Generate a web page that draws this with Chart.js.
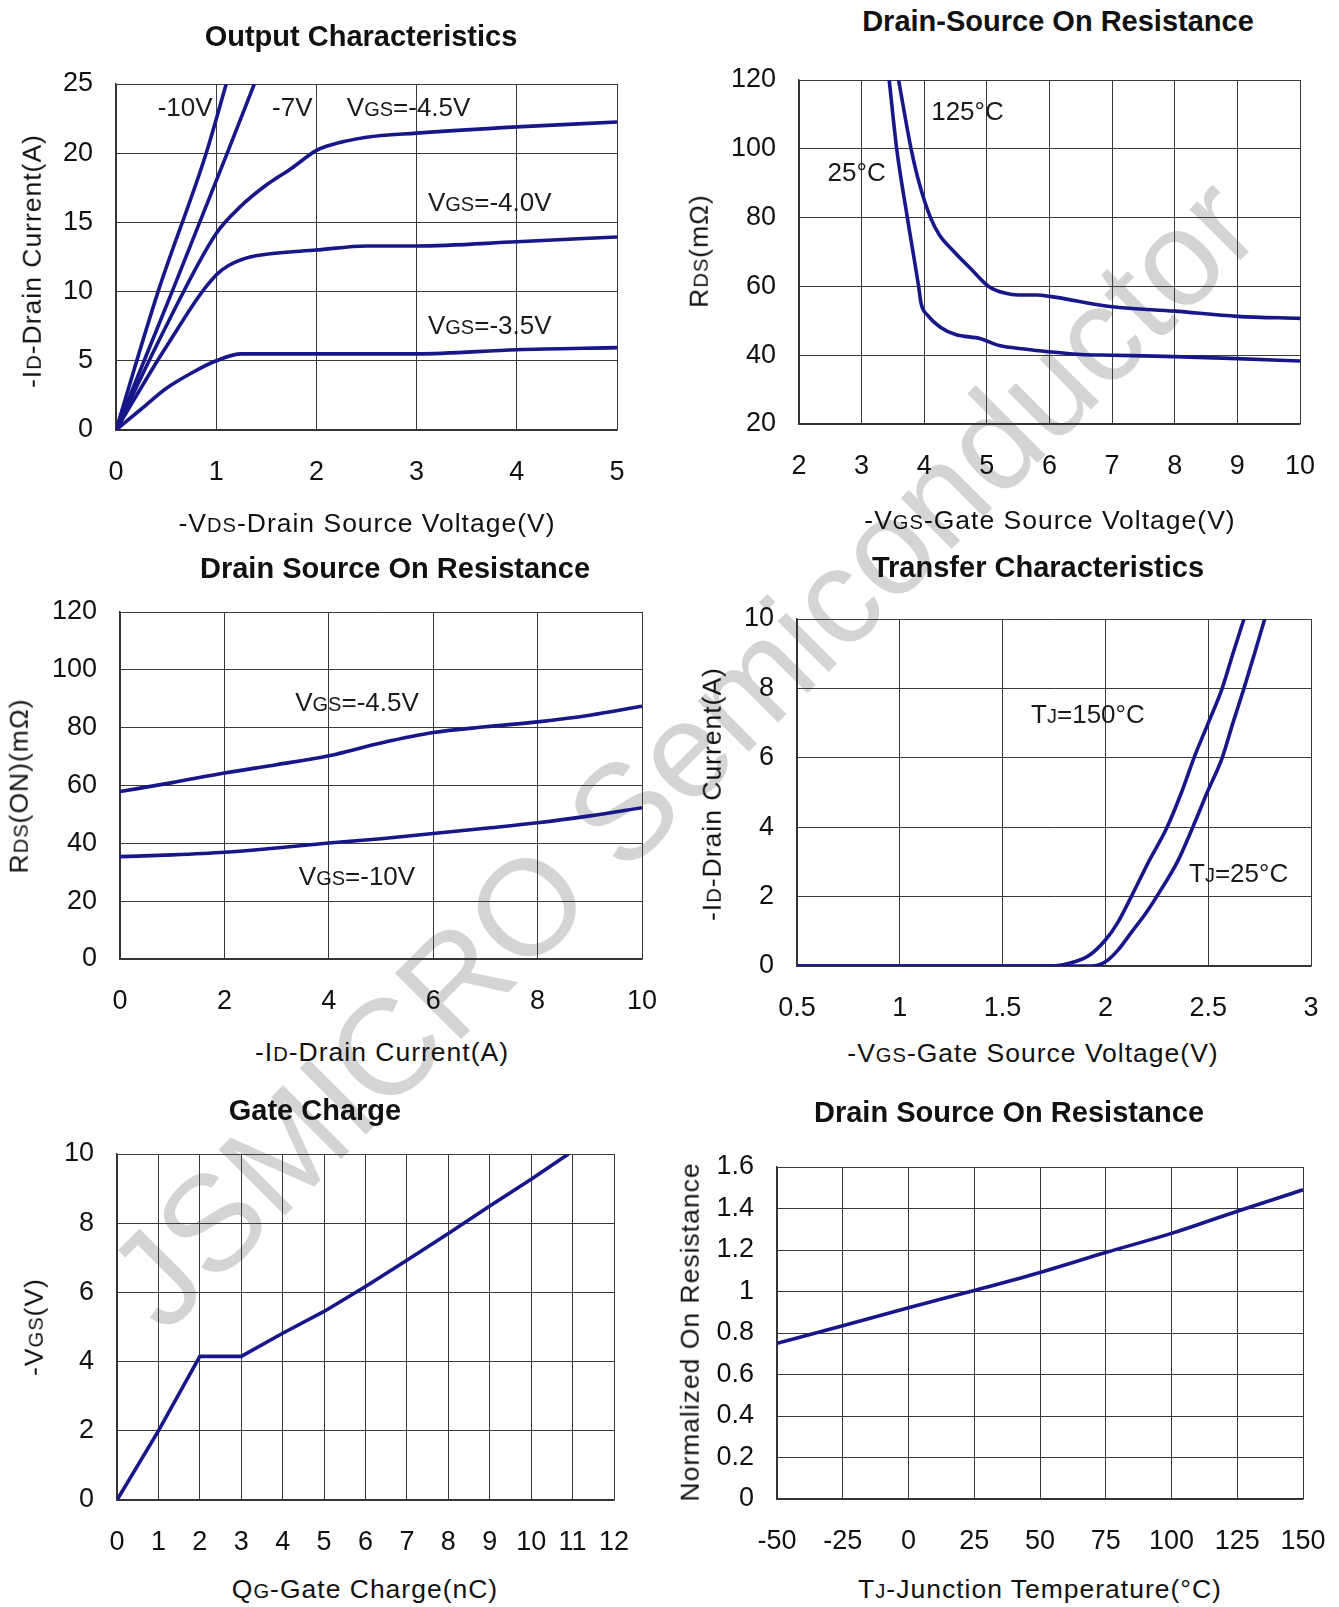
<!DOCTYPE html>
<html>
<head>
<meta charset="utf-8">
<script src="https://cdn.jsdelivr.net/npm/chart.js@4.4.1/dist/chart.umd.min.js"></script>
<style>
  html, body { margin: 0; padding: 0; background: #fff; }
  body { width: 1339px; height: 1607px; position: relative; overflow: hidden;
         font-family: "Liberation Sans", Arial, sans-serif; color: #111; }
  canvas { position: absolute; z-index: 2; }
  .wm { position: absolute; z-index: 1; font-size: 136px; color: #d4d4d4; white-space: nowrap;
        line-height: 1; transform: translate(-50%, -50%) rotate(-45deg); }
  .ttl { position: absolute; z-index: 3; font-weight: bold; font-size: 29px; white-space: nowrap;
         transform: translate(-50%, -50%); }
  .ax { position: absolute; z-index: 3; font-size: 26.5px; letter-spacing: 1px; white-space: nowrap; line-height: 1;
        transform: translate(-50%, -50%); }
  .ax.v { transform: translate(-50%, -50%) rotate(-90deg); }
  .s { font-size: 0.76em; }
</style>
</head>
<body>
<div class="wm" style="left:682px;top:752px">JSMICRO Semiconductor</div>

<div class="ttl" style="left:361px;top:36px">Output Characteristics</div>
<div class="ttl" style="left:1058px;top:21px">Drain-Source On Resistance</div>
<div class="ttl" style="left:395px;top:568px">Drain Source On Resistance</div>
<div class="ttl" style="left:1038px;top:567px">Transfer Characteristics</div>
<div class="ttl" style="left:315px;top:1110px">Gate Charge</div>
<div class="ttl" style="left:1009px;top:1112px">Drain Source On Resistance</div>

<div class="ax" style="left:367px;top:523px">-V<span class="s">DS</span>-Drain Source Voltage(V)</div>
<div class="ax" style="left:1050px;top:520px">-V<span class="s">GS</span>-Gate Source Voltage(V)</div>
<div class="ax" style="left:382px;top:1052px">-I<span class="s">D</span>-Drain Current(A)</div>
<div class="ax" style="left:1033px;top:1053px">-V<span class="s">GS</span>-Gate Source Voltage(V)</div>
<div class="ax" style="left:365px;top:1589px">Q<span class="s">G</span>-Gate Charge(nC)</div>
<div class="ax" style="left:1040px;top:1589px">T<span class="s">J</span>-Junction Temperature(°C)</div>

<div class="ax v" style="left:32px;top:261px">-I<span class="s">D</span>-Drain Current(A)</div>
<div class="ax v" style="left:699px;top:251px">R<span class="s">DS</span>(mΩ)</div>
<div class="ax v" style="left:19px;top:786px">R<span class="s">DS</span>(ON)(mΩ)</div>
<div class="ax v" style="left:712px;top:794px">-I<span class="s">D</span>-Drain Current(A)</div>
<div class="ax v" style="left:34px;top:1327px">-V<span class="s">GS</span>(V)</div>
<div class="ax v" style="left:690px;top:1332px">Normalized On Resistance</div>

<script>
// ---- output characteristics: -ID (A) vs -VDS (V)
const outX = [0, 1, 2, 3, 4, 5];
const outY = [0, 5, 10, 15, 20, 25];
const vds10 = [0, 0.42, 0.9, 1.1];
const id10 = [0, 10, 20, 25];
const vds7 = [0, 0.56, 1.11, 1.38];
const id7 = [0, 10, 20, 25];
const vds45 = [0, 0.5, 1, 1.25, 1.5, 1.75, 2, 2.1, 2.5, 3, 4, 5];
const id45 = [0, 7.5, 14.2, 16.2, 17.7, 18.9, 20.2, 20.5, 21.15, 21.45, 21.9, 22.25];
const vds40 = [0, 0.5, 1, 1.25, 1.5, 2, 2.5, 3, 4, 5];
const id40 = [0, 6, 11.2, 12.3, 12.7, 13.0, 13.3, 13.3, 13.6, 13.95];
const vds35 = [0, 0.25, 0.5, 0.75, 1, 1.25, 2, 3, 4, 5];
const id35 = [0, 1.5, 3.0, 4.1, 5.0, 5.5, 5.5, 5.5, 5.8, 5.95];

// ---- RDS(on) vs -VGS
const rvX = [2, 3, 4, 5, 6, 7, 8, 9, 10];
const rvY = [20, 40, 60, 80, 100, 120];
const vgs25 = [3.44, 3.56, 3.73, 3.91, 3.95, 4.06, 4.27, 4.5, 4.9, 5.2, 5.6, 6, 6.5, 7, 8, 9, 10];
const rds25 = [120, 100, 80, 60, 55, 51.5, 48, 46, 44.8, 42.8, 41.8, 41, 40.2, 40, 39.6, 39, 38.3];
const vgs125 = [3.59, 3.79, 3.92, 4.1, 4.24, 4.48, 4.75, 5.03, 5.3, 5.5, 5.8, 6, 7, 8, 9, 10];
const rds125 = [120, 100, 90, 80, 75, 70, 65, 60, 58, 57.5, 57.5, 57.1, 54.1, 52.8, 51.3, 50.7];

// ---- RDS(on) vs -ID
const riX = [0, 2, 4, 6, 8, 10];
const riY = [0, 20, 40, 60, 80, 100, 120];
const idAxis = [0, 1, 2, 3, 4, 5, 6, 7, 8, 9, 10];
const rdsVgs45 = [57.9, 61.0, 64.3, 67.2, 70.3, 74.7, 78.3, 80.3, 82.0, 84.3, 87.4];
const rdsVgs10 = [35.4, 36.0, 36.9, 38.4, 40.1, 41.6, 43.4, 45.2, 47.1, 49.5, 52.3];

// ---- transfer characteristics
const trX = [0.5, 1, 1.5, 2, 2.5, 3];
const trY = [0, 2, 4, 6, 8, 10];
const vgsT150 = [0.5, 1.75, 1.85, 1.92, 2.0, 2.06, 2.126, 2.21, 2.3, 2.37, 2.431, 2.5, 2.568, 2.62, 2.674];
const idT150 = [0, 0, 0.12, 0.3, 0.75, 1.25, 2, 3, 4, 5, 6, 7, 8, 9, 10];
const vgsT25 = [0.5, 1.93, 2.0, 2.06, 2.13, 2.2, 2.26, 2.35, 2.425, 2.495, 2.568, 2.62, 2.674, 2.725, 2.775];
const idT25 = [0, 0, 0.12, 0.45, 1.0, 1.55, 2.1, 3, 4, 5, 6, 7, 8, 9, 10];

// ---- gate charge
const gcX = [0, 1, 2, 3, 4, 5, 6, 7, 8, 9, 10, 11, 12];
const gcY = [0, 2, 4, 6, 8, 10];
const qg = [0, 1, 2, 3, 4, 5, 6, 7, 8, 9, 10, 10.9];
const vgsQ = [0, 2, 4.15, 4.15, 4.82, 5.45, 6.17, 6.93, 7.7, 8.5, 9.27, 10];

// ---- normalized RDS(on) vs TJ
const tjX = [-50, -25, 0, 25, 50, 75, 100, 125, 150];
const tjY = [0, 0.2, 0.4, 0.6, 0.8, 1, 1.2, 1.4, 1.6];
const tj = [-50, -25, 0, 25, 50, 75, 100, 125, 150];
const rNorm = [0.75, 0.835, 0.922, 1.005, 1.092, 1.188, 1.28, 1.387, 1.49];

const NAVY = "#17178a";
const pts = (xs, ys) => xs.map((x, i) => ({ x, y: ys[i] }));

Chart.defaults.font = { family: "'Liberation Sans', Arial, sans-serif", size: 27, weight: "normal", lineHeight: 1.2 };
Chart.defaults.color = "#111";

// in-plot labels, parts are [text, isSub]
const notes = {
  id: "notes",
  afterDatasetsDraw(chart, args, opts) {
    const ctx = chart.ctx;
    const { x: sx, y: sy } = chart.scales;
    const size = 26;
    ctx.save();
    ctx.fillStyle = "#1a1a1a";
    ctx.textBaseline = "alphabetic";
    (opts.items || []).forEach((it) => {
      let w = 0;
      it.parts.forEach(([t, sub]) => {
        ctx.font = `${sub ? Math.round(size * 0.76) : size}px 'Liberation Sans', Arial, sans-serif`;
        w += ctx.measureText(t).width;
      });
      let px = sx.getPixelForValue(it.x) - w / 2;
      const py = sy.getPixelForValue(it.y) + size * 0.36;
      it.parts.forEach(([t, sub]) => {
        ctx.font = `${sub ? Math.round(size * 0.76) : size}px 'Liberation Sans', Arial, sans-serif`;
        ctx.fillText(t, px, py);
        px += ctx.measureText(t).width;
      });
    });
    ctx.restore();
  },
};

function panel({ L, T, R, B, xr, yr, xt, yt, series, items, tension }) {
  // tick padding is added to the edge-label overhang, so leave room for it on top and right
  const padL = 90, padT = 42, padR = 56, padB = 62;
  const c = document.createElement("canvas");
  const w = R - L + padL + padR, h = B - T + padT + padB;
  c.width = w; c.height = h;
  c.style.left = (L - padL) + "px";
  c.style.top = (T - padT) + "px";
  c.style.width = w + "px"; c.style.height = h + "px";
  document.body.appendChild(c);

  const axis = (range, ticks, isX) => ({
    type: "linear",
    min: range[0], max: range[1],
    afterBuildTicks: (s) => { s.ticks = ticks.map((v) => ({ value: v })); },
    afterFit: (s) => { if (isX) s.height = padB; else s.width = padL; },
    ticks: { padding: isX ? 26 : 23, callback: (v) => String(v), autoSkip: false, maxRotation: 0 },
    grid: { color: "#3a3a3a", lineWidth: 1, drawTicks: false },
    border: { color: "#333", width: 1.5 },
  });

  new Chart(c, {
    type: "line",
    data: {
      datasets: series.map((d) => ({
        data: d,
        borderColor: NAVY,
        borderWidth: 3.6,
        pointRadius: 0,
        fill: false,
        tension: tension,
        cubicInterpolationMode: tension ? "monotone" : "default",
      })),
    },
    options: {
      responsive: false,
      animation: false,
      layout: { padding: { top: padT, right: padR, left: 0, bottom: 0 } },
      plugins: { legend: { display: false }, tooltip: { enabled: false }, notes: { items } },
      scales: { x: axis(xr, xt, true), y: axis(yr, yt, false) },
    },
    plugins: [notes],
  });
}

const VGS = (rest) => [["V", 0], ["GS", 1], [rest, 0]];
const TJ = (rest) => [["T", 0], ["J", 1], [rest, 0]];

panel({
  L: 116, T: 84, R: 617, B: 430, xr: [0, 5], yr: [0, 25], xt: outX, yt: outY, tension: 0.4,
  series: [pts(vds10, id10), pts(vds7, id7), pts(vds45, id45), pts(vds40, id40), pts(vds35, id35)],
  items: [
    { x: 0.69, y: 23.4, parts: [["-10V", 0]] },
    { x: 1.76, y: 23.4, parts: [["-7V", 0]] },
    { x: 2.92, y: 23.4, parts: VGS("=-4.5V") },
    { x: 3.73, y: 16.5, parts: VGS("=-4.0V") },
    { x: 3.73, y: 7.6, parts: VGS("=-3.5V") },
  ],
});

panel({
  L: 799, T: 80, R: 1300, B: 424, xr: [2, 10], yr: [20, 120], xt: rvX, yt: rvY, tension: 0.4,
  series: [pts(vgs25, rds25), pts(vgs125, rds125)],
  items: [
    { x: 4.69, y: 111, parts: [["125°C", 0]] },
    { x: 2.92, y: 93.4, parts: [["25°C", 0]] },
  ],
});

panel({
  L: 120, T: 612, R: 642, B: 959, xr: [0, 10], yr: [0, 120], xt: riX, yt: riY, tension: 0.4,
  series: [pts(idAxis, rdsVgs45), pts(idAxis, rdsVgs10)],
  items: [
    { x: 4.54, y: 89, parts: VGS("=-4.5V") },
    { x: 4.54, y: 29, parts: VGS("=-10V") },
  ],
});

panel({
  L: 797, T: 619, R: 1311, B: 966, xr: [0.5, 3], yr: [0, 10], xt: trX, yt: trY, tension: 0.4,
  series: [pts(vgsT150, idT150), pts(vgsT25, idT25)],
  items: [
    { x: 1.915, y: 7.28, parts: TJ("=150°C") },
    { x: 2.648, y: 2.7, parts: TJ("=25°C") },
  ],
});

panel({
  L: 117, T: 1154, R: 614, B: 1500, xr: [0, 12], yr: [0, 10], xt: gcX, yt: gcY, tension: 0,
  series: [pts(qg, vgsQ)],
  items: [],
});

panel({
  L: 777, T: 1167, R: 1303, B: 1499, xr: [-50, 150], yr: [0, 1.6], xt: tjX, yt: tjY, tension: 0.4,
  series: [pts(tj, rNorm)],
  items: [],
});
</script>
</body>
</html>
